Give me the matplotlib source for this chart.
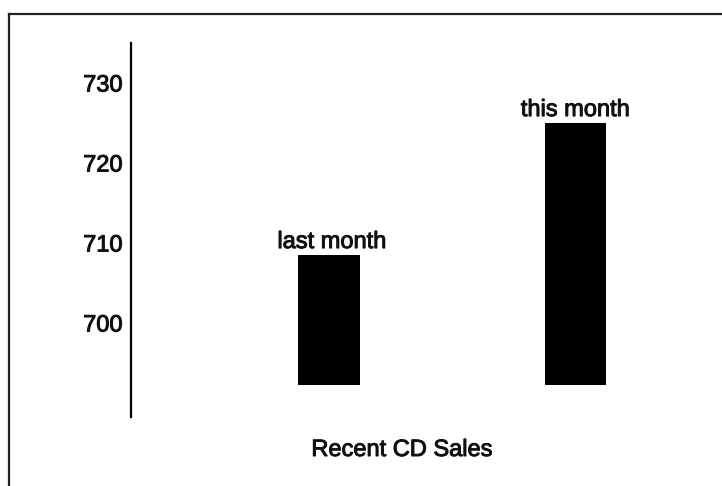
import matplotlib.pyplot as plt
import matplotlib.patheffects as pe
from matplotlib.lines import Line2D

plt.rcParams['font.family'] = ['Liberation Sans', 'DejaVu Sans']

# CD sales, last vs this month
months = ["last month", "this month"]
sales = [708.5, 725]
baseline = 692.25
yticks = [700, 710, 720, 730]

# slightly heavier glyphs
heavy = [pe.withStroke(linewidth=0.7, foreground="#111111")]

W, H = 722, 486
fig = plt.figure(figsize=(W / 100, H / 100), dpi=100)
ax = fig.add_axes([131 / W, (H - 417) / H, (700 - 131) / W, (417 - 43) / H])

xs = range(len(months))
heights = [s - baseline for s in sales]
ax.bar(xs, heights, bottom=baseline, width=0.25, color="black")

for x, s, name in zip(xs, sales, months):
    ax.annotate(name, (x, s), xytext=(2 if x == 0 else 0, 5), textcoords="offset points",
                ha="center", va="baseline", fontsize=17, color="#111111", path_effects=heavy)

ax.set_xlim(-0.805, 1.506)
ax.set_ylim(688.25, 735)
ax.set_yticks(yticks)
ax.set_xticks([])
ax.tick_params(axis="y", length=0, pad=6, labelsize=17, labelcolor="#111111")
for lab in ax.get_yticklabels():
    lab.set_path_effects(heavy)
for side in ["top", "right", "bottom"]:
    ax.spines[side].set_visible(False)
ax.spines["left"].set_linewidth(1.6)

fig.text(402 / W, 1 - 450 / H, "Recent CD Sales", ha="center", va="center", fontsize=17,
         color="#111111", path_effects=heavy)

# frame around the chart (top and left edges)
fig.add_artist(Line2D([9 / W, 1], [1 - 14 / H, 1 - 14 / H], transform=fig.transFigure,
                      color="#222222", lw=1.6))
fig.add_artist(Line2D([9 / W, 9 / W], [0, 1 - 14 / H], transform=fig.transFigure,
                      color="#222222", lw=1.6))

fig.savefig("out.png", dpi=100)
